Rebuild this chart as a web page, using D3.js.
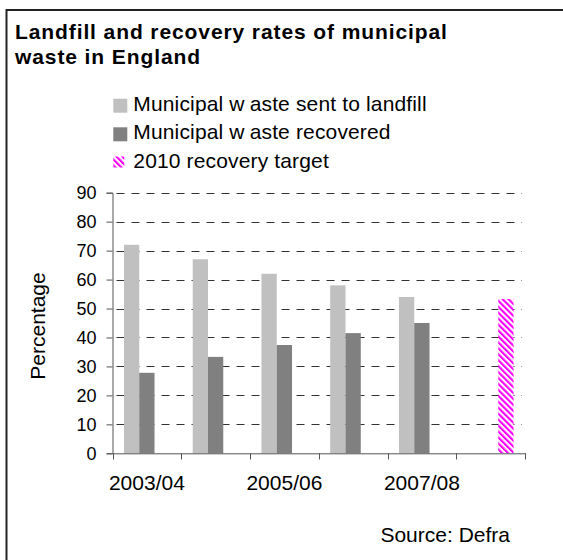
<!DOCTYPE html>
<html>
<head>
<meta charset="utf-8">
<script src="https://cdn.jsdelivr.net/npm/d3@7"></script>
<style>
  html, body { margin: 0; padding: 0; background: #fff; }
  svg { display: block; font-family: "Liberation Sans", Arial, sans-serif; }
</style>
</head>
<body>
<svg id="chart" width="563" height="560"></svg>
<script>
// ---- data ----
const categories = ["2003/04", "2004/05", "2005/06", "2006/07", "2007/08", "2010"];
const shownTickLabels = ["2003/04", "2005/06", "2007/08"];
const landfill = [72, 67, 62, 58, 54, null];
const recovered = [27.8, 33.3, 37.4, 41.5, 45, null];
const target = [null, null, null, null, null, 53.3];
const seriesNames = ["Municipal waste sent to landfill", "Municipal waste recovered", "2010 recovery target"];
const yTicks = [0, 10, 20, 30, 40, 50, 60, 70, 80, 90];

const svg = d3.select("#chart");

// pattern for target
const defs = svg.append("defs");
const pat = defs.append("pattern")
  .attr("id", "stripes").attr("patternUnits", "userSpaceOnUse")
  .attr("width", 4.2).attr("height", 4.2)
  .attr("patternTransform", "rotate(-45)");
pat.append("rect").attr("width", 4.2).attr("height", 4.2).attr("fill", "#fff");
pat.append("rect").attr("width", 2.1).attr("height", 4.2).attr("fill", "#ff00ff");

// frame (top and left visible)
svg.append("line").attr("x1", 6).attr("x2", 563).attr("y1", 10).attr("y2", 10)
  .attr("stroke", "#222").attr("stroke-width", 2);
svg.append("line").attr("x1", 6.5).attr("x2", 6.5).attr("y1", 9).attr("y2", 560)
  .attr("stroke", "#222").attr("stroke-width", 2);

// title
const title = svg.append("text").attr("x", 15).attr("font-size", 21).attr("font-weight", "bold")
  .attr("letter-spacing", 0.9).attr("fill", "#000");
title.append("tspan").attr("x", 15).attr("y", 38.5).text("Landfill and recovery rates of municipal");
title.append("tspan").attr("x", 15).attr("y", 63.5).text("waste in England");

// scales
const x0 = d3.scaleBand().domain(categories).range([112.5, 525]).padding(0);
const x1 = d3.scaleBand().domain([0, 1, 2]).range([0, x0.bandwidth()]).paddingInner(0).paddingOuter(0.75);
const y = d3.scaleLinear().domain([0, 90]).range([453.3, 192.7]);

// gridlines
svg.append("g").selectAll("line").data(yTicks.filter(d => d > 0)).join("line")
  .attr("x1", 112.5).attr("x2", 522)
  .attr("y1", d => Math.round(y(d)) + 0.5).attr("y2", d => Math.round(y(d)) + 0.5)
  .attr("stroke", "#333").attr("stroke-width", 1).attr("stroke-dasharray", "8,7")
  .attr("stroke-dashoffset", -4);

// bars
const fills = ["#c0c0c0", "#808080", "url(#stripes)"];
const allSeries = [landfill, recovered, target];
allSeries.forEach((vals, si) => {
  svg.append("g").selectAll("rect").data(categories.map((c, i) => ({ c, v: vals[i] })).filter(d => d.v != null))
    .join("rect")
    .attr("x", d => x0(d.c) + x1(si))
    .attr("width", x1.bandwidth())
    .attr("y", d => y(d.v))
    .attr("height", d => y(0) - y(d.v))
    .attr("fill", fills[si]);
});

// y axis
const yAxis = svg.append("g").attr("transform", "translate(112.5,0)")
  .call(d3.axisLeft(y).tickValues(yTicks).tickSize(6).tickPadding(10));
yAxis.select(".domain").attr("stroke", "#555");
yAxis.selectAll(".tick line").attr("stroke", "#555");
yAxis.selectAll("text").attr("font-size", 18).attr("fill", "#000")
  .attr("font-family", "Liberation Sans, Arial, sans-serif");

// x axis
const xAxis = svg.append("g").attr("transform", "translate(0,453.3)")
  .call(d3.axisBottom(x0).tickSize(0).tickPadding(22)
    .tickFormat(d => shownTickLabels.includes(d) ? d : ""));
xAxis.select(".domain").attr("stroke", "#555");
xAxis.selectAll("text").attr("font-size", 21).attr("fill", "#000")
  .attr("font-family", "Liberation Sans, Arial, sans-serif");
// boundary ticks
const bounds = categories.map(c => x0(c)).concat([x0.range()[1]]);
svg.append("g").selectAll("line").data(bounds).join("line")
  .attr("x1", d => Math.round(d) + 0.5).attr("x2", d => Math.round(d) + 0.5)
  .attr("y1", 453.3).attr("y2", 459.5).attr("stroke", "#555");

// y axis title
svg.append("text").attr("transform", "translate(45,326) rotate(-90)")
  .attr("text-anchor", "middle").attr("font-size", 21).attr("fill", "#000").text("Percentage");

// legend
const legendRows = [
  { name: seriesNames[0], fill: fills[0], y: 110.7, size: 14 },
  { name: seriesNames[1], fill: fills[1], y: 139.3, size: 14 },
  { name: seriesNames[2], fill: fills[2], y: 168, size: 11 }
];
const lg = svg.append("g");
legendRows.forEach(r => {
  lg.append("rect").attr("x", 113.3).attr("y", r.y - 12 - (r.size - 14) / 2 - (r.size === 11 ? 1 : 0))
    .attr("width", r.size).attr("height", r.size).attr("fill", r.fill);
  const t = lg.append("text").attr("x", 133.3).attr("y", r.y).attr("font-size", 21)
    .attr("letter-spacing", 0.15).attr("fill", "#000");
  // original rendering shows a small gap after the "w" of "waste"
  const m = r.name.match(/^(.*w)(aste.*)$/);
  if (m) {
    t.append("tspan").text(m[1]);
    t.append("tspan").attr("dx", 5).text(m[2]);
  } else {
    t.text(r.name);
  }
});

// source
svg.append("text").attr("x", 510).attr("y", 541.7).attr("text-anchor", "end")
  .attr("font-size", 21).attr("fill", "#000").text("Source: Defra");
</script>
</body>
</html>
